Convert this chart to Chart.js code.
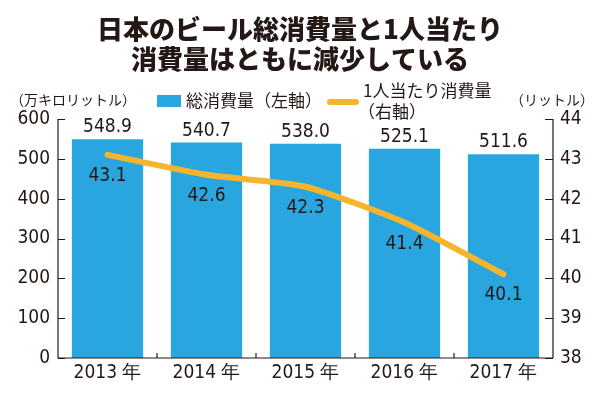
<!DOCTYPE html>
<html>
<head>
<meta charset="utf-8">
<script src="https://cdn.jsdelivr.net/npm/chart.js@4.4.1/dist/chart.umd.min.js"></script>
<style>
  html, body { margin: 0; padding: 0; background: #fff; }
  #wrap { width: 600px; height: 394px; }
</style>
</head>
<body>
<div id="wrap"><canvas id="graphique"></canvas></div>
<script>
// données
const annees = ['2013 年', '2014 年', '2015 年', '2016 年', '2017 年'];
const consoTotale = [548.9, 540.7, 538.0, 525.1, 511.6];   // 万キロリットル (axe gauche)
const consoParPersonne = [43.1, 42.6, 42.3, 41.4, 40.1];   // リットル (axe droit)
const titreLignes = ['日本のビール総消費量と1人当たり', '消費量はともに減少している'];
const legendeBarres = '総消費量（左軸）';
const legendeLigne = ['1人当たり消費量', '（右軸）'];
const uniteGauche = '（万キロリットル）';
const uniteDroite = '（リットル）';

const BLEU = '#29a6df';
const ORANGE = '#f6b52c';
const NOIR = '#231815';
const POLICE_CHIFFRES = '"Liberation Sans Narrow", "DejaVu Sans Condensed", Roboto, sans-serif';
const POLICE_JP = '"Noto Sans CJK JP", "Noto Sans", sans-serif';

// plugin : titre, légende, axes avec graduations intérieures, étiquettes de valeurs
const decorPlugin = {
    id: 'decor',
    beforeDraw(chart) {
        const c = chart.ctx;
        c.save();
        c.fillStyle = NOIR;
        c.textAlign = 'center';
        c.textBaseline = 'middle';
        c.font = '900 26px ' + POLICE_JP;
        c.fillText(titreLignes[0], 300, 29);
        c.fillText(titreLignes[1], 300, 59);

        c.font = '14px ' + POLICE_JP;
        c.textAlign = 'left';
        c.fillText(uniteGauche, 10, 100);
        c.fillText(uniteDroite, 510, 100);

        c.fillStyle = BLEU;
        c.fillRect(157, 95, 24, 12);
        c.fillStyle = NOIR;
        c.font = '17px ' + POLICE_JP;
        c.fillText(legendeBarres, 186, 101);

        c.strokeStyle = ORANGE;
        c.lineWidth = 6;
        c.lineCap = 'round';
        c.beginPath();
        c.moveTo(330, 102);
        c.lineTo(356, 102);
        c.stroke();
        c.fillText(legendeLigne[0], 363, 91);
        c.fillText(legendeLigne[1], 358, 112);
        c.restore();
    },
    afterDatasetsDraw(chart) {
        const c = chart.ctx;
        const x = chart.scales.x, yG = chart.scales.y, yD = chart.scales.y1;
        c.save();
        c.strokeStyle = NOIR;
        c.lineWidth = 1.2;
        c.beginPath();
        // axe gauche
        c.moveTo(x.left, yG.getPixelForValue(600));
        c.lineTo(x.left, yG.getPixelForValue(0));
        c.lineTo(x.right, yG.getPixelForValue(0));
        // axe droit
        c.moveTo(x.right, yD.getPixelForValue(38));
        c.lineTo(x.right, yD.getPixelForValue(44));
        yG.ticks.forEach(t => {
            const py = Math.round(yG.getPixelForValue(t.value)) + 0.5;
            c.moveTo(x.left, py);
            c.lineTo(x.left + 7, py);
        });
        yD.ticks.forEach(t => {
            const py = Math.round(yD.getPixelForValue(t.value)) + 0.5;
            c.moveTo(x.right, py);
            c.lineTo(x.right - 8, py);
        });
        const bas = yG.getPixelForValue(0);
        for (let i = 1; i < annees.length; i++) {
            const px = (x.getPixelForValue(i - 1) + x.getPixelForValue(i)) / 2;
            c.moveTo(px, bas);
            c.lineTo(px, bas - 5);
        }
        c.stroke();

        // étiquettes de valeurs
        c.fillStyle = NOIR;
        c.textAlign = 'center';
        c.textBaseline = 'middle';
        c.font = '19px ' + POLICE_CHIFFRES;
        chart.getDatasetMeta(0).data.forEach((el, i) => {
            c.fillText(consoTotale[i].toFixed(1), el.x, el.y - 12);
        });
        chart.getDatasetMeta(1).data.forEach((el, i) => {
            c.fillText(consoParPersonne[i].toFixed(1), el.x, el.y + 21);
        });
        c.restore();
    }
};

const ctx = document.getElementById('graphique').getContext('2d');
new Chart(ctx, {
    data: {
        labels: annees,
        datasets: [
            {
                type: 'bar',
                label: legendeBarres,
                data: consoTotale,
                backgroundColor: BLEU,
                barPercentage: 0.72,
                categoryPercentage: 1,
                yAxisID: 'y',
                order: 2
            },
            {
                type: 'line',
                label: legendeLigne.join(''),
                data: consoParPersonne,
                borderColor: ORANGE,
                borderWidth: 6,
                borderCapStyle: 'round',
                borderJoinStyle: 'round',
                pointRadius: 0,
                tension: 0.2,
                yAxisID: 'y1',
                order: 1
            }
        ]
    },
    options: {
        responsive: true,
        maintainAspectRatio: false,
        animation: false,
        layout: { padding: { top: 119, left: 0, right: 0, bottom: 0 } },
        plugins: {
            legend: { display: false },
            tooltip: { enabled: false }
        },
        scales: {
            x: {
                grid: { display: false, drawTicks: false },
                border: { display: false },
                afterFit: s => { s.height = 36; },
                ticks: {
                    padding: 4,
                    color: NOIR,
                    font: { family: POLICE_CHIFFRES, size: 19 }
                }
            },
            y: {
                position: 'left',
                min: 0,
                max: 600,
                grid: { display: false, drawTicks: false },
                border: { display: false },
                afterFit: s => { s.width = 58; },
                ticks: {
                    stepSize: 100,
                    padding: 8,
                    color: NOIR,
                    font: { family: POLICE_CHIFFRES, size: 19 }
                }
            },
            y1: {
                position: 'right',
                min: 38,
                max: 44,
                grid: { display: false, drawTicks: false },
                border: { display: false },
                afterFit: s => { s.width = 47; },
                ticks: {
                    stepSize: 1,
                    padding: 7,
                    color: NOIR,
                    font: { family: POLICE_CHIFFRES, size: 19 }
                }
            }
        }
    },
    plugins: [decorPlugin]
});
</script>
</body>
</html>
